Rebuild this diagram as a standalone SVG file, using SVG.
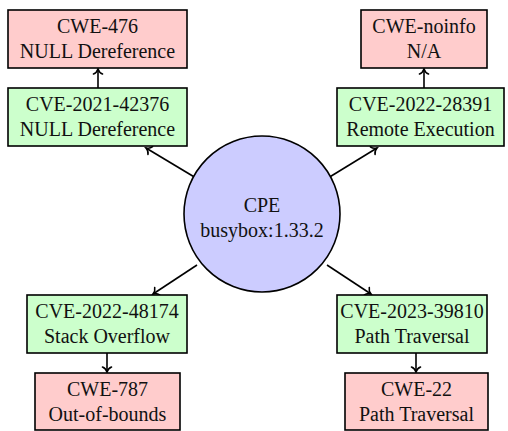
<svg xmlns="http://www.w3.org/2000/svg" width="508" height="431" viewBox="0 0 508 431">
<style>
.n rect{stroke:#000;stroke-width:1.6}
.cwe{fill:#ffcccc}
.cve{fill:#ccffcc}
circle{fill:#ccccff;stroke:#000;stroke-width:1.6}
text{font-family:"Liberation Serif","DejaVu Serif",serif;font-size:20px;fill:#111;text-anchor:middle}
.c line{stroke:#000;stroke-width:1.6;marker-end:url(#arr)}
</style>
<defs>
<marker id="arr" viewBox="-7 -6 9 12" refX="0" refY="0" markerWidth="9" markerHeight="12" markerUnits="userSpaceOnUse" orient="auto">
<path d="M-5,-4.5 C-4,-1.8 -1.2,-0.4 0,0 C-1.2,0.4 -4,1.8 -5,4.5" fill="none" stroke="#000" stroke-width="1.6" stroke-linecap="round"/>
</marker>
</defs>
<rect width="508" height="431" fill="#fff"/>
<g class="c">
<line x1="98" y1="88" x2="98" y2="69"/>
<line x1="424" y1="88" x2="424" y2="69"/>
<line x1="107" y1="353" x2="107" y2="372"/>
<line x1="416" y1="353" x2="416" y2="372"/>
<line x1="196" y1="178" x2="146" y2="148"/>
<line x1="328" y1="178" x2="377" y2="148"/>
<line x1="197" y1="265" x2="153" y2="294"/>
<line x1="327" y1="265" x2="371" y2="294"/>
</g>
<g id="cpe">
<circle cx="262" cy="214" r="78"/>
<text x="262" y="212">CPE</text>
<text x="262" y="237">busybox:1.33.2</text>
</g>
<g id="cve-2021-42376" class="n">
<rect class="cve" x="8" y="88" width="179" height="58"/>
<text x="97.5" y="111">CVE-2021-42376</text>
<text x="97.5" y="136">NULL Dereference</text>
</g>
<g id="cwe-476" class="n">
<rect class="cwe" x="8" y="10" width="179" height="58"/>
<text x="97.5" y="33">CWE-476</text>
<text x="97.5" y="58">NULL Dereference</text>
</g>
<g id="cve-2022-28391" class="n">
<rect class="cve" x="337" y="88" width="167" height="58"/>
<text x="420.5" y="111">CVE-2022-28391</text>
<text x="420.5" y="136">Remote Execution</text>
</g>
<g id="cwe-noinfo" class="n">
<rect class="cwe" x="361" y="10" width="126" height="58"/>
<text x="424" y="33">CWE-noinfo</text>
<text x="424" y="58">N/A</text>
</g>
<g id="cve-2022-48174" class="n">
<rect class="cve" x="27" y="295" width="160" height="58"/>
<text x="107" y="318">CVE-2022-48174</text>
<text x="107" y="343">Stack Overflow</text>
</g>
<g id="cwe-787" class="n">
<rect class="cwe" x="35" y="373" width="145" height="57"/>
<text x="107.5" y="396">CWE-787</text>
<text x="107.5" y="421">Out-of-bounds</text>
</g>
<g id="cve-2023-39810" class="n">
<rect class="cve" x="337" y="295" width="150" height="58"/>
<text x="412" y="318">CVE-2023-39810</text>
<text x="412" y="343">Path Traversal</text>
</g>
<g id="cwe-22" class="n">
<rect class="cwe" x="345" y="373" width="143" height="57"/>
<text x="416.5" y="396">CWE-22</text>
<text x="416.5" y="421">Path Traversal</text>
</g>
</svg>
